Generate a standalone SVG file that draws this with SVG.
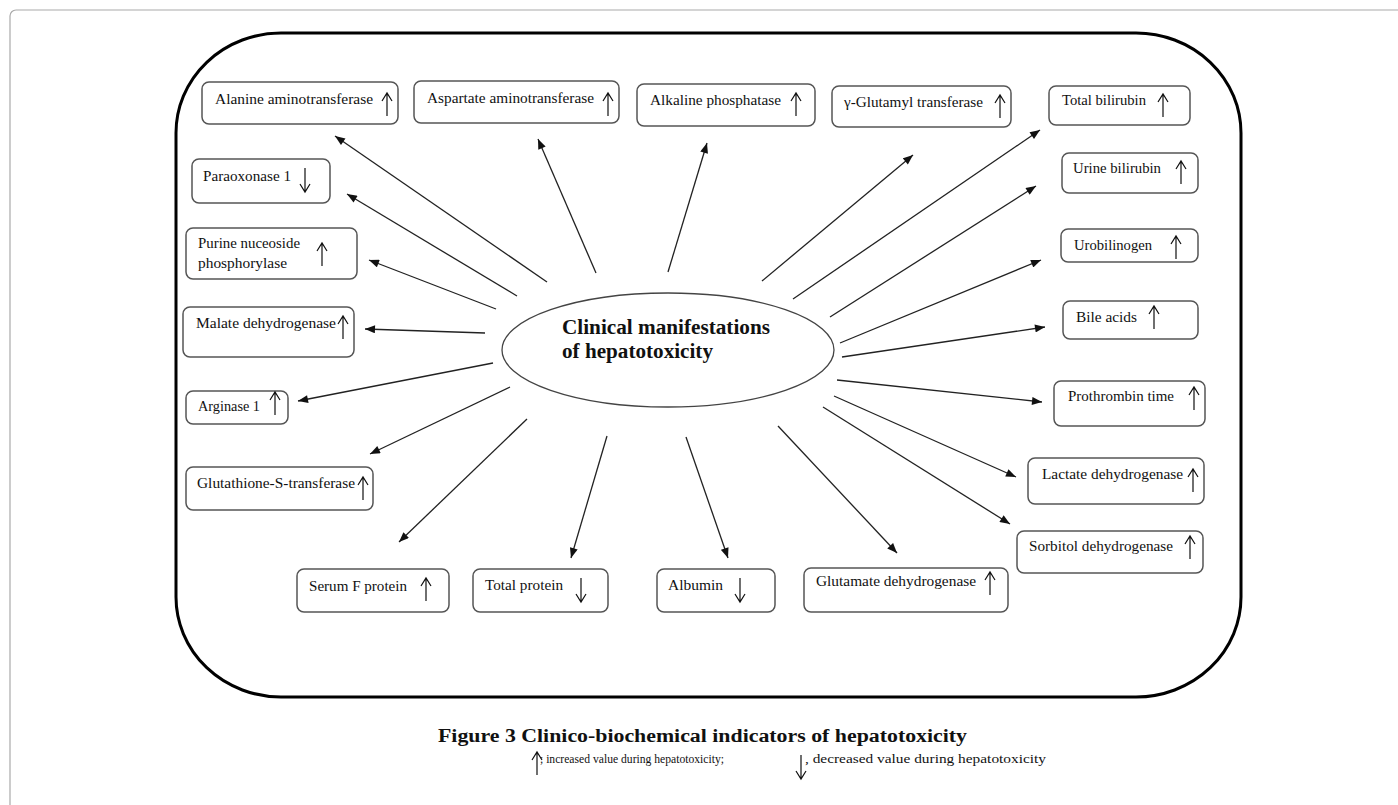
<svg xmlns="http://www.w3.org/2000/svg" xmlns:xlink="http://www.w3.org/1999/xlink" width="1398" height="805" viewBox="0 0 1398 805">
<style>
.box{fill:#fff;stroke:#555;stroke-width:1.5}
.t{font-family:"Liberation Serif","Times New Roman",serif;font-size:14px;fill:#111}
.h{font-family:"Liberation Serif","Times New Roman",serif;font-size:20px;font-weight:bold;fill:#111}
.cap{font-family:"Liberation Serif","Times New Roman",serif;font-size:18px;font-weight:bold;fill:#111}
.leg{font-family:"Liberation Serif","Times New Roman",serif;font-size:11.5px;fill:#111}
.sym{fill:none;stroke:#111;stroke-width:1.2}
.con line{stroke:#222;stroke-width:1.3;marker-end:url(#ah)}
</style>
<defs>
<marker id="ah" viewBox="0 0 10 8" refX="10" refY="4" markerWidth="11" markerHeight="8" orient="auto" markerUnits="userSpaceOnUse"><path d="M0,0 L10,4 L0,8 z" fill="#111"/></marker>
<path id="up" class="sym" d="M0,0 V23 M-5,8 L0,0 L5,8"/>
<path id="dn" class="sym" d="M0,0 V24 M-5,16 L0,24 L5,16"/>
</defs>
<rect width="1398" height="805" fill="#fff"/>
<rect x="10" y="10" width="1400" height="810" rx="6" fill="none" stroke="#aaa" stroke-width="1.2"/>
<rect x="176" y="33" width="1065" height="664" rx="105" ry="100" fill="none" stroke="#000" stroke-width="3"/>

<g id="connectors" class="con">
<line x1="547" y1="282" x2="335" y2="136"/>
<line x1="517" y1="296" x2="347" y2="194"/>
<line x1="596" y1="273" x2="538" y2="139"/>
<line x1="668" y1="272" x2="707" y2="143"/>
<line x1="762" y1="281" x2="913" y2="155"/>
<line x1="793" y1="299" x2="1040" y2="130"/>
<line x1="830" y1="317" x2="1036" y2="186"/>
<line x1="840" y1="343" x2="1041" y2="260"/>
<line x1="842" y1="357" x2="1045" y2="327"/>
<line x1="837" y1="380" x2="1042" y2="402"/>
<line x1="834" y1="396" x2="1016" y2="477"/>
<line x1="823" y1="407" x2="1010" y2="524"/>
<line x1="778" y1="426" x2="897" y2="553"/>
<line x1="686" y1="437" x2="728" y2="558"/>
<line x1="607" y1="436" x2="571" y2="558"/>
<line x1="527" y1="419" x2="399" y2="542"/>
<line x1="510" y1="387" x2="370" y2="454"/>
<line x1="493" y1="363" x2="298" y2="401"/>
<line x1="485" y1="333" x2="365" y2="329"/>
<line x1="496" y1="309" x2="369" y2="260"/>
</g>

<g id="center">
<ellipse cx="668" cy="350" rx="166" ry="57" fill="#fff" stroke="#444" stroke-width="1.3"/>
<text class="h" x="562" y="334" textLength="208" lengthAdjust="spacingAndGlyphs">Clinical manifestations</text>
<text class="h" x="562" y="358" textLength="151" lengthAdjust="spacingAndGlyphs">of hepatotoxicity</text>
</g>

<g id="alt"><rect class="box" x="202" y="82" width="196" height="42" rx="7"/><text class="t" x="215" y="104" textLength="158" lengthAdjust="spacingAndGlyphs">Alanine aminotransferase</text><use href="#up" x="387" y="93"/></g>
<g id="ast"><rect class="box" x="414" y="81" width="205" height="42" rx="7"/><text class="t" x="427" y="103" textLength="167" lengthAdjust="spacingAndGlyphs">Aspartate aminotransferase</text><use href="#up" x="608" y="93"/></g>
<g id="alp"><rect class="box" x="637" y="84" width="178" height="42" rx="7"/><text class="t" x="650" y="105" textLength="131" lengthAdjust="spacingAndGlyphs">Alkaline phosphatase</text><use href="#up" x="796" y="93"/></g>
<g id="ggt"><rect class="box" x="832" y="86" width="179" height="41" rx="7"/><text class="t" x="844" y="107" textLength="139" lengthAdjust="spacingAndGlyphs">γ-Glutamyl transferase</text><use href="#up" x="1000" y="95"/></g>
<g id="tbil"><rect class="box" x="1049" y="86" width="141" height="39" rx="7"/><text class="t" x="1062" y="105" textLength="84" lengthAdjust="spacingAndGlyphs">Total bilirubin</text><use href="#up" x="1163" y="94"/></g>
<g id="ubil"><rect class="box" x="1062" y="153" width="136" height="40" rx="7"/><text class="t" x="1073" y="173" textLength="88" lengthAdjust="spacingAndGlyphs">Urine bilirubin</text><use href="#up" x="1181" y="161"/></g>
<g id="urob"><rect class="box" x="1061" y="229" width="137" height="33" rx="7"/><text class="t" x="1074" y="250" textLength="78" lengthAdjust="spacingAndGlyphs">Urobilinogen</text><use href="#up" x="1176" y="236"/></g>
<g id="bile"><rect class="box" x="1063" y="301" width="135" height="38" rx="7"/><text class="t" x="1076" y="322" textLength="61" lengthAdjust="spacingAndGlyphs">Bile acids</text><use href="#up" x="1154" y="306"/></g>
<g id="pt"><rect class="box" x="1054" y="381" width="151" height="45" rx="7"/><text class="t" x="1068" y="401" textLength="106" lengthAdjust="spacingAndGlyphs">Prothrombin time</text><use href="#up" x="1194" y="387"/></g>
<g id="ldh"><rect class="box" x="1028" y="458" width="176" height="46" rx="7"/><text class="t" x="1042" y="479" textLength="141" lengthAdjust="spacingAndGlyphs">Lactate dehydrogenase</text><use href="#up" x="1193" y="469"/></g>
<g id="sdh"><rect class="box" x="1017" y="531" width="186" height="42" rx="7"/><text class="t" x="1029" y="551" textLength="144" lengthAdjust="spacingAndGlyphs">Sorbitol dehydrogenase</text><use href="#up" x="1190" y="536"/></g>
<g id="gldh"><rect class="box" x="804" y="568" width="204" height="44" rx="7"/><text class="t" x="816" y="586" textLength="160" lengthAdjust="spacingAndGlyphs">Glutamate dehydrogenase</text><use href="#up" x="990" y="572"/></g>
<g id="alb"><rect class="box" x="657" y="569" width="118" height="43" rx="7"/><text class="t" x="668" y="590" textLength="55" lengthAdjust="spacingAndGlyphs">Albumin</text><use href="#dn" x="740" y="578"/></g>
<g id="tp"><rect class="box" x="473" y="569" width="135" height="43" rx="7"/><text class="t" x="485" y="590" textLength="78" lengthAdjust="spacingAndGlyphs">Total protein</text><use href="#dn" x="581" y="578"/></g>
<g id="sfp"><rect class="box" x="297" y="569" width="152" height="43" rx="7"/><text class="t" x="309" y="591" textLength="98" lengthAdjust="spacingAndGlyphs">Serum F protein</text><use href="#up" x="426" y="578"/></g>
<g id="gst"><rect class="box" x="186" y="467" width="187" height="43" rx="7"/><text class="t" x="197" y="488" textLength="158" lengthAdjust="spacingAndGlyphs">Glutathione-S-transferase</text><use href="#up" x="363" y="477"/></g>
<g id="arg"><rect class="box" x="186" y="391" width="102" height="33" rx="7"/><text class="t" x="198" y="411" textLength="62" lengthAdjust="spacingAndGlyphs">Arginase 1</text><use href="#up" x="275" y="392"/></g>
<g id="mdh"><rect class="box" x="183" y="307" width="171" height="50" rx="7"/><text class="t" x="196" y="328" textLength="140" lengthAdjust="spacingAndGlyphs">Malate dehydrogenase</text><use href="#up" x="343" y="316"/></g>
<g id="pnp"><rect class="box" x="186" y="228" width="171" height="51" rx="7"/><text class="t" x="198" y="248" textLength="102" lengthAdjust="spacingAndGlyphs">Purine nuceoside</text><text class="t" x="198" y="268" textLength="89" lengthAdjust="spacingAndGlyphs">phosphorylase</text><use href="#up" x="322" y="243"/></g>
<g id="pon"><rect class="box" x="192" y="159" width="138" height="44" rx="7"/><text class="t" x="203" y="181" textLength="88" lengthAdjust="spacingAndGlyphs">Paraoxonase 1</text><use href="#dn" x="305" y="168"/></g>

<g id="caption">
<text class="cap" x="438" y="742" textLength="529" lengthAdjust="spacingAndGlyphs">Figure 3 Clinico-biochemical indicators of hepatotoxicity</text>
<use href="#up" x="537" y="752"/>
<text class="leg" x="540" y="763" textLength="184" lengthAdjust="spacingAndGlyphs">; increased value during hepatotoxicity;</text>
<use href="#dn" x="801" y="755"/>
<text class="leg" x="805" y="763" textLength="241" lengthAdjust="spacingAndGlyphs">, decreased value during hepatotoxicity</text>
</g>
</svg>
